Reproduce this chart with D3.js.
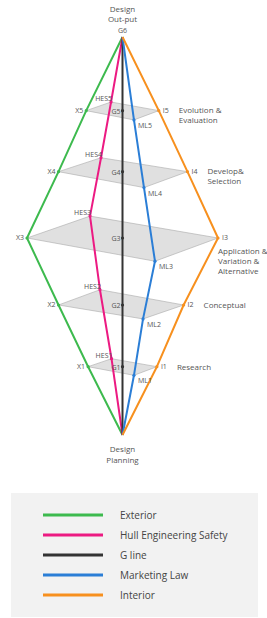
<!DOCTYPE html>
<html lang="en">
<head>
<meta charset="utf-8">
<title>Design spiral</title>
<script src="https://d3js.org/d3.v7.min.js"></script>
<style>
  body { margin: 0; background: #fff; }
  text { font-family: "Open Sans", "Noto Sans", sans-serif; fill: #555; }
</style>
</head>
<body>
<svg width="267" height="618"></svg>
<script>
// stages from bottom (Design Planning) to top (Design Out-put)
const stageNames = [["Research"], ["Conceptual"], ["Application &", "Variation &", "Alternative"], ["Develop&", "Selection"], ["Evolution &", "Evaluation"]];
const stageLevel = [1.03, 1.96, 2.97, 3.97, 4.89];
const bottomLevel = 0, topLevel = 6;

// horizontal offset of each series per stage (-1..1), and depth shift (level units)
const exteriorX = [-0.36, -0.67, -1.0, -0.67, -0.38];
const hullX = [-0.115, -0.236, -0.34, -0.225, -0.12];
const hullDepth = [0.12, 0.23, 0.33, 0.21, 0.13];
const gX = [0, 0, 0, 0, 0];
const marketingX = [0.12, 0.215, 0.34, 0.225, 0.12];
const marketingDepth = [-0.13, -0.21, -0.35, -0.24, -0.14];
const interiorX = [0.36, 0.64, 1.0, 0.68, 0.38];

const exteriorLabels = ["X1", "X2", "X3", "X4", "X5"];
const hullLabels = ["HES1", "HES2", "HES3", "HES4", "HES5"];
const gLabels = ["G1", "G2", "G3", "G4", "G5"];
const marketingLabels = ["ML1", "ML2", "ML3", "ML4", "ML5"];
const interiorLabels = ["I1", "I2", "I3", "I4", "I5"];

const series = [
  { name: "Exterior", color: "#3dba4e", x: exteriorX, depth: null, labels: exteriorLabels, side: "left" },
  { name: "Hull Engineering Safety", color: "#ec1a82", x: hullX, depth: hullDepth, labels: hullLabels, side: "back" },
  { name: "G line", color: "#333333", x: gX, depth: null, labels: gLabels, side: "g" },
  { name: "Marketing Law", color: "#2b7ed6", x: marketingX, depth: marketingDepth, labels: marketingLabels, side: "front" },
  { name: "Interior", color: "#f7901e", x: interiorX, depth: null, labels: interiorLabels, side: "right" }
];

const svg = d3.select("svg");
const x = d3.scaleLinear().domain([-1, 1]).range([27, 218]);
const y = d3.scaleLinear().domain([bottomLevel, topLevel]).range([435, 37]);

function pt(s, i) {
  const d = s.depth ? s.depth[i] : 0;
  return [x(s.x[i]), y(stageLevel[i] + d)];
}

// planes
const planes = svg.append("g");
stageLevel.forEach((lv, i) => {
  const pts = [pt(series[0], i), pt(series[1], i), pt(series[4], i), pt(series[3], i)];
  planes.append("path")
    .attr("d", "M" + pts.join("L") + "Z")
    .attr("fill", "#d6d6d6")
    .attr("fill-opacity", 0.75)
    .attr("stroke", "#aaa")
    .attr("stroke-width", 0.6);
});

// lines
const line = d3.line();
series.forEach(s => {
  const pts = [[x(0), y(bottomLevel)]].concat(stageLevel.map((lv, i) => pt(s, i))).concat([[x(0), y(topLevel)]]);
  svg.append("path")
    .attr("d", line(pts))
    .attr("fill", "none")
    .attr("stroke", s.color)
    .attr("stroke-width", 2)
    .attr("stroke-linejoin", "round");
});

// points and labels
series.forEach(s => {
  stageLevel.forEach((lv, i) => {
    const p = pt(s, i);
    svg.append("circle").attr("cx", p[0]).attr("cy", p[1]).attr("r", 1.6).attr("fill", s.color);
    const t = svg.append("text").style("font-size", "7px").text(s.labels[i]);
    if (s.side === "left") t.attr("x", p[0] - 3).attr("y", p[1] + 2.5).attr("text-anchor", "end");
    else if (s.side === "right") t.attr("x", p[0] + 4).attr("y", p[1] + 2.5);
    else if (s.side === "back") t.attr("x", p[0] + 1).attr("y", p[1] - 1).attr("text-anchor", "end");
    else if (s.side === "front") t.attr("x", p[0] + 4).attr("y", p[1] + 8);
    else t.attr("x", p[0] - 2).attr("y", p[1] + 3).attr("text-anchor", "end");
  });
});

// stage names on the right
stageNames.forEach((names, i) => {
  const p = pt(series[4], i);
  const t = svg.append("text").style("font-size", "8px");
  const dy0 = names.length === 1 ? 3 : (names.length === 2 ? 2 : 16);
  const dx = names.length === 3 ? 0 : 20;
  names.forEach((n, j) => {
    t.append("tspan").attr("x", p[0] + dx).attr("y", p[1] + dy0 + j * 10).text(n);
  });
});

// top / bottom labels
svg.append("text").attr("x", x(0)).attr("y", y(topLevel) - 4).attr("text-anchor", "middle").style("font-size", "7px").text("G6");
[["Design", "Out-put"]].forEach(a => {
  a.forEach((n, j) => svg.append("text").attr("x", x(0)).attr("y", y(topLevel) - 25 + j * 10)
    .attr("text-anchor", "middle").style("font-size", "8px").text(n));
});
[["Design", "Planning"]].forEach(a => {
  a.forEach((n, j) => svg.append("text").attr("x", x(0)).attr("y", y(bottomLevel) + 17 + j * 11)
    .attr("text-anchor", "middle").style("font-size", "8px").text(n));
});

// legend
const legend = svg.append("g");
legend.append("rect").attr("x", 11).attr("y", 493).attr("width", 247).attr("height", 124).attr("fill", "#f2f2f2");
series.forEach((s, i) => {
  const ly = 515 + i * 20;
  legend.append("line").attr("x1", 43).attr("x2", 103).attr("y1", ly).attr("y2", ly)
    .attr("stroke", s.color).attr("stroke-width", 3);
  legend.append("text").attr("x", 120).attr("y", ly + 3.5).style("font-size", "10px").style("fill", "#444").text(s.name);
});
</script>
</body>
</html>
